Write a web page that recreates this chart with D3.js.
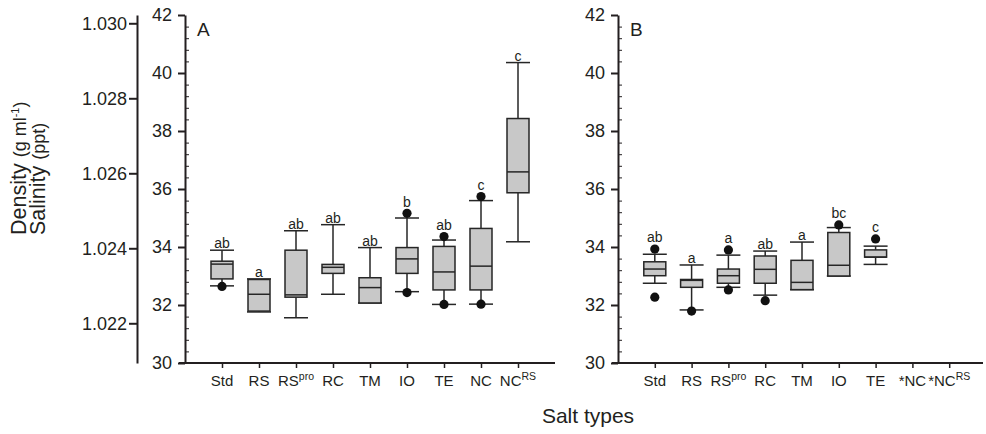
<!DOCTYPE html>
<html><head><meta charset="utf-8">
<script src="https://cdn.jsdelivr.net/npm/d3@7"></script>
<style>
html,body{margin:0;padding:0;background:#fff;}
svg{display:block;font-family:"Liberation Sans",Arial,Helvetica,sans-serif;}
</style></head>
<body>
<svg id="chart" width="986" height="434"></svg>
<script>
// ---------- data ----------
const categoriesA = ["Std","RS","RS^pro","RC","TM","IO","TE","NC","NC^RS"];
const whiskerLowA  = [32.66,31.76,31.56,32.37,32.07,32.46,32.02,32.03,34.18];
const q1A          = [32.90,31.79,32.27,33.09,32.07,33.09,32.52,32.52,35.87];
const medianA      = [33.41,32.37,32.35,33.30,32.60,33.59,33.14,33.34,36.59];
const q3A          = [33.51,32.88,33.89,33.40,32.94,33.98,34.02,34.64,38.43];
const whiskerHighA = [33.89,32.90,34.56,34.77,33.98,35.00,34.24,35.60,40.36];
const outLowA      = [32.64,null,null,null,null,32.43,32.02,32.03,null];
const outHighA     = [null,null,null,null,null,35.16,34.36,35.74,null];
const lettersA     = ["ab","a","ab","ab","ab","b","ab","c","c"];

const categoriesB = ["Std","RS","RS^pro","RC","TM","IO","TE","*NC","*NC^RS"];
const whiskerLowB  = [32.75,31.83,32.61,32.34,32.53,33.00,33.40,null,null];
const q1B          = [33.01,32.61,32.75,32.75,32.53,33.00,33.65,null,null];
const medianB      = [33.24,32.85,33.01,33.23,32.78,33.37,33.65,null,null];
const q3B          = [33.49,32.88,33.24,33.69,33.54,34.50,33.90,null,null];
const whiskerHighB = [33.75,33.38,33.72,33.86,34.17,34.67,34.03,null,null];
const outLowB      = [32.27,31.79,32.52,32.15,null,null,null,null,null];
const outHighB     = [33.93,null,33.90,null,null,34.76,34.28,null,null];
const lettersB     = ["ab","a","a","ab","a","bc","c","",""];

const salinityTicks = [30,32,34,36,38,40,42];
const densityTicks = [1.022,1.024,1.026,1.028,1.030];
const minorTicks = d3.range(30,42.001,0.4).map(v=>+v.toFixed(1)).filter(v=>Math.abs(v/2-Math.round(v/2))>1e-6);

// ---------- layout ----------
const svg = d3.select("#chart");
const ink = "#231f20";
const yTop = 15, yBot = 363;
const yS = d3.scaleLinear().domain([30,42]).range([yBot,yTop]);
const yD = d3.scaleLinear().domain([1.020941,1.030221]).range([yBot,yTop]);

function styleAxis(g, w){
  g.selectAll("path,line").attr("stroke",ink).attr("stroke-width",w);
  g.selectAll("text").attr("fill",ink).attr("font-family","'Liberation Sans',Arial,sans-serif");
}

function panel(opt){
  const x = d3.scalePoint().domain(opt.cats).range([opt.x0, opt.x0+opt.w]).padding(1);
  const gy = svg.append("g").attr("transform",`translate(${opt.x0},0)`)
    .call(d3.axisLeft(yS).tickValues(salinityTicks).tickSize(7).tickSizeOuter(0).tickPadding(6));
  styleAxis(gy,2);
  gy.selectAll("text").attr("font-size",18);
  const gm = svg.append("g").attr("transform",`translate(${opt.x0},0)`)
    .call(d3.axisRight(yS).tickValues(minorTicks).tickSize(4).tickFormat(""));
  gm.select(".domain").remove();
  styleAxis(gm,1);
  const gx = svg.append("g").attr("transform",`translate(0,${yBot})`)
    .call(d3.axisBottom(x).tickSize(5).tickSizeOuter(0).tickFormat(""));
  gx.select(".domain").remove();
  styleAxis(gx,1.5);
  svg.append("line").attr("x1",opt.x0-6).attr("x2",opt.xEnd).attr("y1",yBot).attr("y2",yBot)
    .attr("stroke",ink).attr("stroke-width",2);
  opt.cats.forEach(c=>{
    const parts = c.split("^");
    const t = svg.append("text").attr("x",x(c)).attr("y",yBot+23).attr("text-anchor","middle")
      .attr("font-size",15).attr("fill",ink);
    t.append("tspan").text(parts[0]);
    if(parts[1]) t.append("tspan").attr("font-size",10.5).attr("dy",-6).text(parts[1]);
  });
  svg.append("text").attr("x",opt.x0+12).attr("y",36).attr("font-size",19).attr("fill",ink).text(opt.tag);
  const bw = 22, cw = 24;
  const g = svg.append("g");
  opt.cats.forEach((c,i)=>{
    if(opt.q1[i]==null) return;
    const cx = x(c);
    const wl=yS(opt.wl[i]), q1=yS(opt.q1[i]), md=yS(opt.med[i]), q3=yS(opt.q3[i]), wh=yS(opt.wh[i]);
    const ln = (x1,y1,x2,y2,w)=>g.append("line").attr("x1",x1).attr("y1",y1).attr("x2",x2).attr("y2",y2)
      .attr("stroke","#262626").attr("stroke-width",w||1.5);
    ln(cx,wh,cx,q3); ln(cx,q1,cx,wl);
    ln(cx-cw/2,wh,cx+cw/2,wh); ln(cx-cw/2,wl,cx+cw/2,wl);
    g.append("rect").attr("x",cx-bw/2).attr("y",q3).attr("width",bw).attr("height",Math.max(q1-q3,0.5))
      .attr("fill","#c8c8c8").attr("stroke","#262626").attr("stroke-width",1.5);
    ln(cx-bw/2,md,cx+bw/2,md);
    let top = wh;
    if(opt.oh[i]!=null){ g.append("circle").attr("cx",cx).attr("cy",yS(opt.oh[i])).attr("r",4.6).attr("fill","#111"); top = yS(opt.oh[i])-4.6; }
    if(opt.ol[i]!=null){ g.append("circle").attr("cx",cx).attr("cy",yS(opt.ol[i])).attr("r",4.6).attr("fill","#111"); }
    g.append("text").attr("x",cx).attr("y",top-2).attr("text-anchor","middle")
      .attr("font-family","'Liberation Sans Narrow','Arial Narrow',Arial,sans-serif")
      .attr("font-size",14).attr("fill",ink).text(opt.letters[i]);
  });
}

panel({cats:categoriesA,x0:185,w:370,xEnd:555,tag:"A",wl:whiskerLowA,q1:q1A,med:medianA,q3:q3A,wh:whiskerHighA,ol:outLowA,oh:outHighA,letters:lettersA});
panel({cats:categoriesB,x0:618,w:368,xEnd:983,tag:"B",wl:whiskerLowB,q1:q1B,med:medianB,q3:q3B,wh:whiskerHighB,ol:outLowB,oh:outHighB,letters:lettersB});

const gd = svg.append("g").attr("transform","translate(137,0)")
  .call(d3.axisLeft(yD).tickValues(densityTicks).tickFormat(d3.format(".3f")).tickSize(8).tickSizeOuter(0).tickPadding(2));
styleAxis(gd,2);
gd.selectAll("text").attr("font-size",18);

const yt = svg.append("g").attr("transform","translate(0,235) rotate(-90)");
const t1 = yt.append("text").attr("x",0).attr("y",26).attr("font-size",21.5).attr("fill",ink);
t1.append("tspan").text("Density ");
t1.append("tspan").attr("font-size",18).text("(g ml");
t1.append("tspan").attr("font-size",11).attr("dy",-7).text("-1");
t1.append("tspan").attr("font-size",18).attr("dy",7).text(")");
const t2 = yt.append("text").attr("x",0).attr("y",45).attr("font-size",21.5).attr("fill",ink);
t2.append("tspan").text("Salinity ");
t2.append("tspan").attr("font-size",18).text("(ppt)");

svg.append("text").attr("x",588).attr("y",423).attr("text-anchor","middle").attr("font-size",21)
  .attr("fill",ink).text("Salt types");
</script>
</body></html>
